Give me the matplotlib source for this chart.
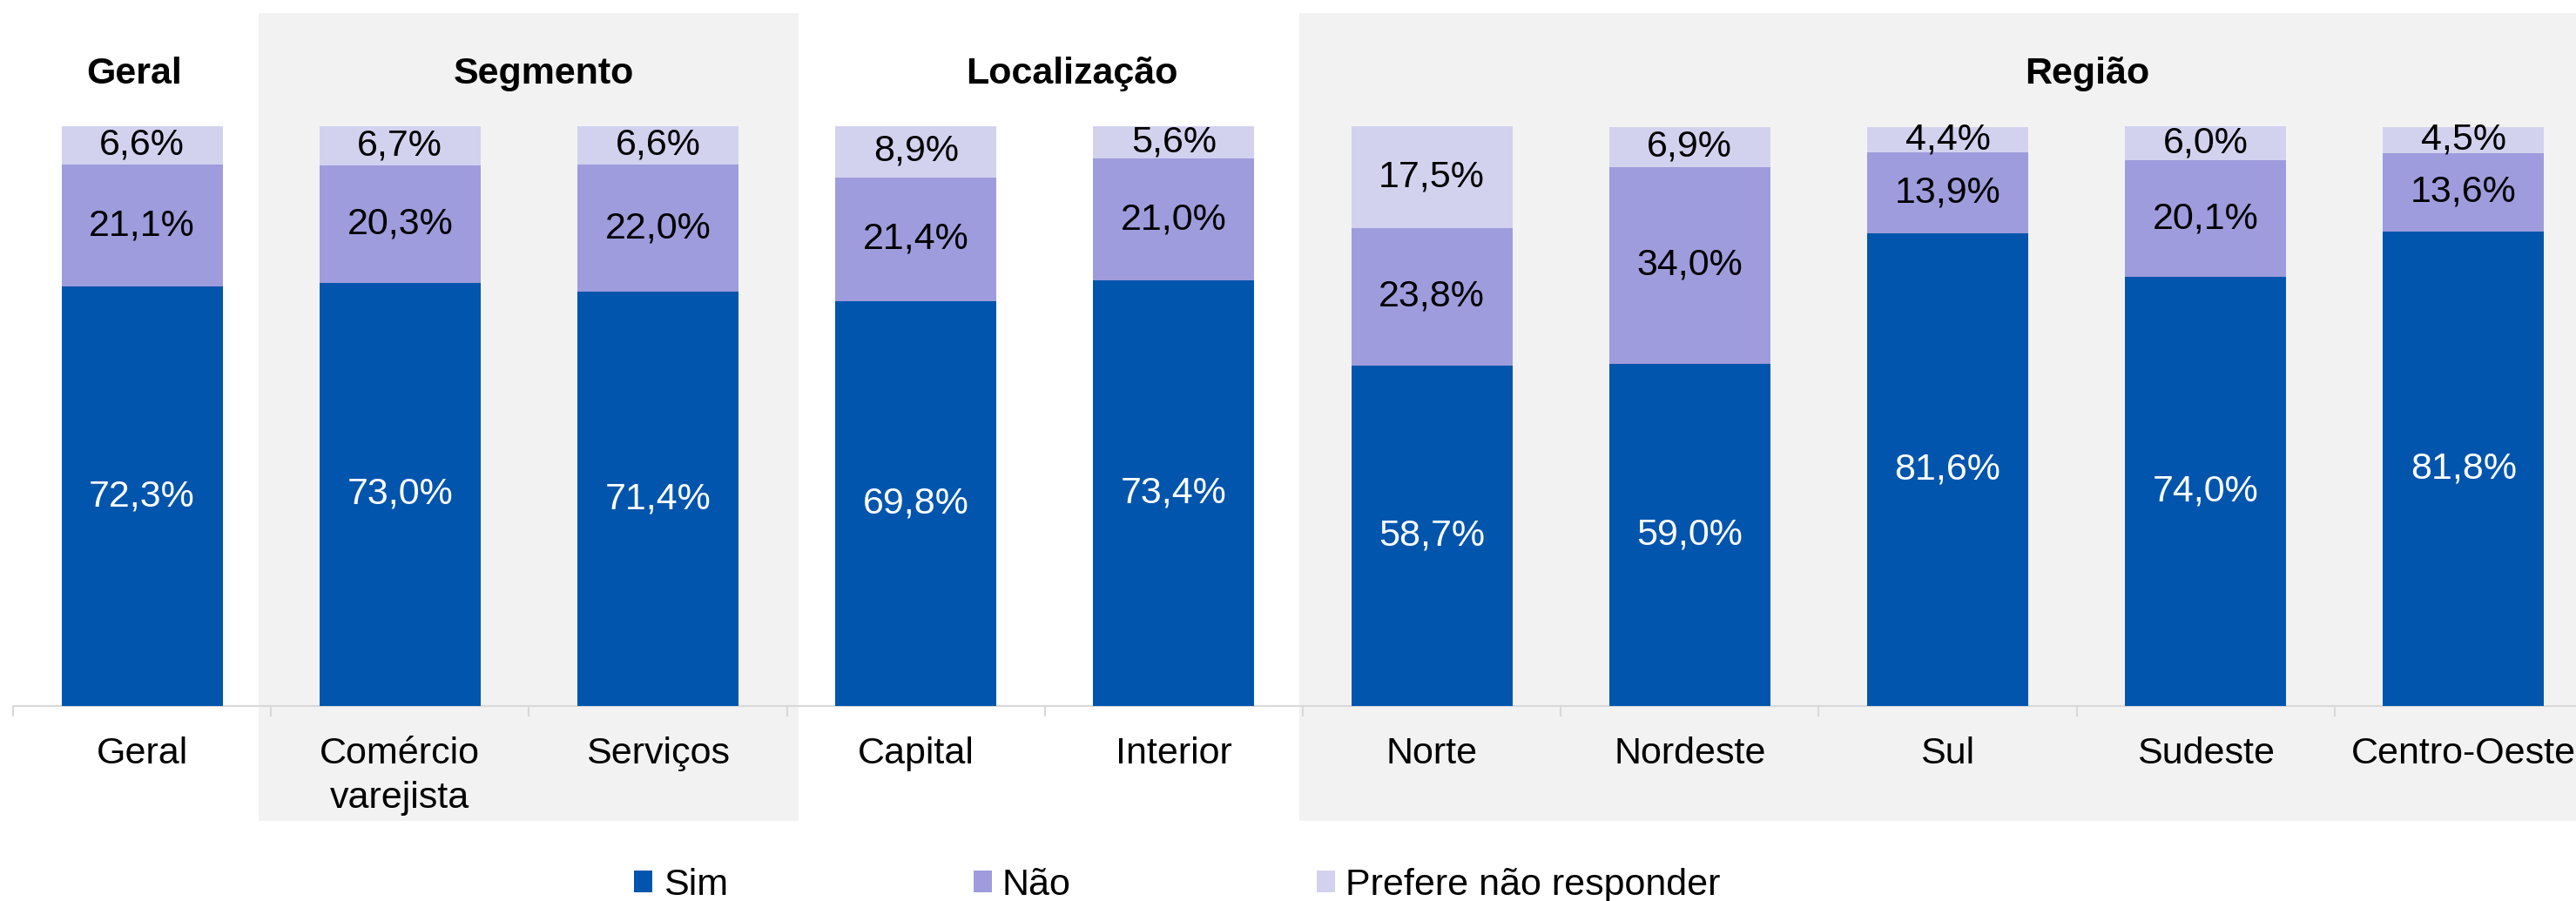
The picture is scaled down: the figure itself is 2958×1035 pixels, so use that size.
import matplotlib
matplotlib.use("Agg")
import matplotlib.pyplot as plt
import matplotlib.transforms as mtransforms
from matplotlib.patches import Rectangle, Patch
import numpy as np

plt.rcParams['font.family'] = ['Liberation Sans', 'DejaVu Sans']

categories = ["Geral", "Comércio\nvarejista", "Serviços", "Capital", "Interior",
              "Norte", "Nordeste", "Sul", "Sudeste", "Centro-Oeste"]
sim = [72.3, 73.0, 71.4, 69.8, 73.4, 58.7, 59.0, 81.6, 74.0, 81.8]
nao = [21.1, 20.3, 22.0, 21.4, 21.0, 23.8, 34.0, 13.9, 20.1, 13.6]
prefere = [6.6, 6.7, 6.6, 8.9, 5.6, 17.5, 6.9, 4.4, 6.0, 4.5]
series_names = ["Sim", "Não", "Prefere não responder"]

group_titles = ["Geral", "Segmento", "Localização", "Região"]
group_title_x = [-0.03, 1.556, 3.605, 7.54]
shaded_groups = [(0.452, 2.545), (4.487, 10.5)]

colors = ["#0255AD", "#9E9CDC", "#D2D2EF"]
label_colors = ["white", "black", "black"]
FS = 31

fig = plt.figure(figsize=(29.58, 10.35), dpi=100)
ax = fig.add_axes([15 / 2958, 224 / 1035, 2962 / 2958, 666 / 1035])
ax.set_xlim(-0.5, 9.5)
ax.set_ylim(0, 100)

x = np.arange(len(categories))
bottom = np.zeros(len(categories))
for vals, col, lcol, name in zip([sim, nao, prefere], colors, label_colors, series_names):
    vals = np.array(vals)
    ax.bar(x, vals, width=0.625, bottom=bottom, color=col, zorder=3, label=name)
    for xi, b, v in zip(x, bottom, vals):
        ax.text(xi, b + v / 2, f"{v:.1f}%".replace(".", ","), ha="center", va="center",
                fontsize=FS, color=lcol, zorder=4)
    bottom = bottom + vals

trans = mtransforms.blended_transform_factory(ax.transData, ax.transAxes)
for x0, x1 in shaded_groups:
    ax.add_patch(Rectangle((x0, -0.198), x1 - x0, 1.195 + 0.198, transform=trans,
                           facecolor="#F2F2F2", edgecolor="none", zorder=0, clip_on=False))

for t, tx in zip(group_titles, group_title_x):
    ax.text(tx, 1.0736, t, transform=trans, ha="center", va="baseline",
            fontsize=FS, fontweight="bold", color="black", zorder=5)

for s in ["top", "left", "right"]:
    ax.spines[s].set_visible(False)
ax.spines["bottom"].set_color("#D9D9D9")
ax.spines["bottom"].set_linewidth(1.5)
ax.set_yticks([])
ax.set_xticks(x)
ax.set_xticklabels(categories, fontsize=FS, linespacing=1.35)
ax.tick_params(axis="x", which="major", length=0, pad=25)
ax.set_xticks(np.arange(-0.5, 10, 1.0), minor=True)
ax.tick_params(axis="x", which="minor", length=8.6, width=1.5, color="#D9D9D9")

handles = [Patch(facecolor=c, edgecolor="none") for c in colors]
fig.legend(handles, series_names, loc="center", bbox_to_anchor=(0.457, 0.0174),
           ncol=3, frameon=False, fontsize=FS, handlelength=0.49, handleheight=0.51,
           handletextpad=0.28, columnspacing=6.55, borderpad=0, borderaxespad=0)

fig.savefig("out.png", dpi=100)
